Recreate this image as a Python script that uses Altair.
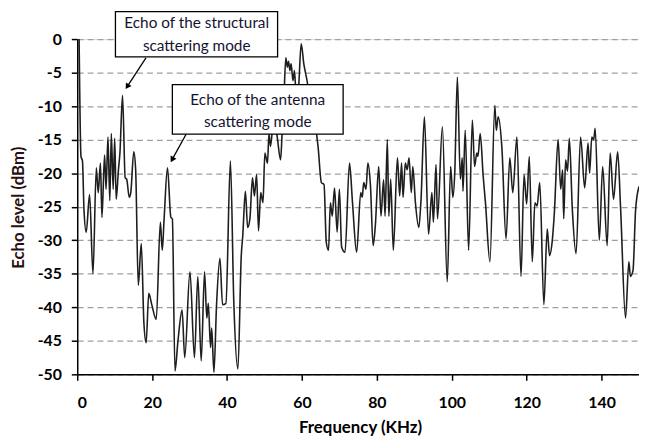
import altair as alt
import pandas as pd

# ---- data ----
freq = [0.5, 1.0, 1.4, 1.8, 2.4, 3.3, 4.2, 5.1, 5.6, 6.2, 6.6, 7.3, 7.7, 8.2, 8.7, 9.1, 9.6, 10.0, 10.4, 11.0,
        11.4, 12.1, 12.8, 13.2, 13.9, 14.3, 15.1, 15.6, 16.3, 17.1, 17.8, 18.4, 19.1, 19.9, 21.1, 22.2, 22.7, 23.2,
        24.1, 25.0, 25.4, 26.1, 26.9, 28.0, 28.7, 30.1, 31.3, 32.2, 33.1, 34.0, 34.6, 35.0, 35.6, 35.9, 36.5, 37.2,
        38.1, 38.8, 39.7,
        40.9, 41.8, 42.9, 43.8, 44.2, 44.9, 45.5, 46.1, 46.8, 47.3, 47.9, 48.4, 49.0, 49.6, 50.1, 50.8, 51.2, 51.6,
        52.5, 53.4, 54.3, 54.7, 55.2, 55.7, 56.1, 56.4, 56.8, 57.1, 57.6, 58.0, 58.5, 59.1, 59.8, 60.5, 61.0, 61.5,
        62.1, 62.7, 63.4, 63.9, 64.3, 65.2, 65.9, 66.5, 67.1, 67.6, 68.1, 68.7, 69.4, 70.0, 70.6, 71.5, 72.7, 73.5,
        74.6, 75.7, 76.1, 76.5, 77.1, 77.6, 78.3, 79.0, 79.6, 80.5, 81.1, 81.8,
        82.2, 82.8, 83.2, 83.7, 84.4, 85.5, 86.1, 86.6, 87.0, 87.6, 88.1, 88.6, 89.2, 89.6, 90.3, 91.2, 91.8, 92.7,
        93.8, 94.7, 95.1, 95.8, 96.2, 97.5, 98.8, 99.7, 100.3, 100.8, 101.5, 102.3, 102.8, 103.0, 103.6, 104.5,
        105.5, 106.1, 106.7, 107.0, 107.6, 108.4, 109.0, 110.2, 111.5, 111.9, 112.4, 113.4, 114.5, 115.5, 116.3,
        117.4, 118.5, 119.3, 120.0, 120.7, 121.5,
        122.2, 122.8, 123.5, 124.6, 125.5, 126.1, 126.8, 127.4, 128.4, 129.1, 129.6, 129.9, 130.4, 130.9, 131.4,
        132.2, 133.2, 134.4, 135.5, 136.4, 136.8, 137.4, 137.9, 138.3, 139.4, 140.3, 141.5, 142.3, 143.2, 144.3,
        145.1, 146.4, 147.3, 147.7, 148.4, 149.1, 150.0]

level = [0.0, -17.5, -18.2, -25.4, -28.8, -23.2, -35.0, -19.2, -22.9, -18.5, -26.6, -17.3, -22.4, -14.6, -24.1,
         -14.1, -22.4, -14.8, -23.9, -19.5,
         -17.0, -8.4, -20.7, -20.9, -23.6, -22.9, -16.8, -19.5, -36.7, -30.5, -42.3, -45.3, -37.9, -39.6, -41.8,
         -27.3, -31.5, -26.8,
         -19.2, -26.6, -26.8, -49.5, -45.0, -40.4, -47.5, -34.7, -47.5, -35.4, -48.0, -34.7, -41.6, -39.4, -46.0,
         -43.1, -49.7, -39.6,
         -32.7, -39.6, -39.4,
         -18.2, -39.1, -49.2, -32.3, -29.3, -22.7, -28.1, -26.8, -20.7, -23.4, -20.2, -28.6, -22.9, -24.4, -17.0,
         -18.5, -14.1, -16.0,
         -11.6, -14.6, -18.0, -14.1, -8.7, -2.8, -4.2, -3.3, -4.7, -3.7, -6.2, -4.7, -8.7, -7.2, -0.7, -3.7, -5.2,
         -6.7,
         -10.6, -8.7, -11.6, -14.1, -16.0, -21.4, -21.7, -30.3, -31.5, -24.4, -26.4, -22.2, -28.8, -22.4, -31.0,
         -31.8, -18.5, -24.4,
         -31.8, -22.9, -23.6, -21.4, -22.4, -18.5, -21.9, -30.8, -27.8, -19.0, -26.4, -21.0,
         -26.4, -15.0, -26.4, -20.9, -31.5, -17.7, -23.4, -18.5, -23.6, -18.5, -19.5, -17.7, -22.9, -19.0, -24.4,
         -28.1, -23.9, -11.6,
         -29.1, -22.9, -27.3, -18.7, -26.8, -13.1, -36.2, -19.0, -23.6, -20.0, -5.7, -20.9, -17.7, -22.7, -13.6,
         -31.5,
         -12.1, -19.0, -17.0, -17.5, -14.1, -20.5, -24.4, -33.2, -9.9, -13.6, -11.6, -16.3, -29.8, -17.7, -22.9,
         -14.6, -35.4, -20.2, -24.6, -17.5, -33.2,
         -24.4, -24.9, -21.4, -39.6, -28.3, -32.3, -30.3, -25.9, -15.0, -22.4, -19.5, -26.8, -18.0, -19.7, -14.8,
         -25.4, -32.0, -14.6, -22.2, -15.5, -20.0, -14.6, -15.0, -13.3, -30.0, -19.0, -30.8, -17.0, -23.9, -16.8,
         -25.4, -41.6, -33.2, -35.4, -34.5, -25.4, -22.0]

x_ticks = [0, 20, 40, 60, 80, 100, 120, 140]
y_ticks = [-50, -45, -40, -35, -30, -25, -20, -15, -10, -5, 0]

# annotation boxes (data coordinates)
box_x1 = [10.2, 25.4]
box_x2 = [53.5, 71.0]
box_y1 = [4.1, -6.8]
box_y2 = [-2.65, -14.16]
box_cx = [31.9, 48.2]
box_cy = [2.35, -9.05]
box_text = [["Echo of the structural", "scattering mode"], ["Echo of the antenna", "scattering mode"]]

arrow_x1 = [18.35, 29.1]
arrow_y1 = [-2.8, -14.16]
arrow_x2 = [13.34, 25.33]
arrow_y2 = [-7.09, -17.98]
arrow_angle = [213, 209]

df = pd.DataFrame({"freq": freq, "level": level})
boxes = pd.DataFrame({"x1": box_x1, "x2": box_x2, "y1": box_y1, "y2": box_y2,
                      "cx": box_cx, "cy": box_cy, "label": box_text})
arrows = pd.DataFrame({"x1": arrow_x1, "y1": arrow_y1, "x2": arrow_x2, "y2": arrow_y2,
                       "angle": arrow_angle})

FONT = "Lato"
xs = alt.Scale(domain=[0, 150], nice=False, zero=False)
ys = alt.Scale(domain=[-50, 0], nice=False, zero=False)

x_axis = alt.Axis(
    values=x_ticks, title="Frequency (KHz)", grid=False, labelOverlap=False,
    labelExpr="'' + datum.value",
    domainColor="black", domainWidth=1.5, tickColor="black", tickWidth=1.5, tickSize=6,
    labelFont=FONT, labelFontSize=16, labelFontWeight="bold", labelColor="black", labelPadding=15,
    titleFont=FONT, titleFontSize=17, titleFontWeight="bold", titleColor="black",
    titleX=286, titleY=54, titleBaseline="middle", titleAnchor="middle", titleAlign="center")

y_axis = alt.Axis(
    values=y_ticks, tickCount=11, title="Echo level (dBm)", grid=True, gridDash=[6, 4],
    gridColor="#a0a0a0", labelOverlap=False, labelExpr="'' + datum.value",
    gridWidth=1.2, domainColor="black", domainWidth=1.5, tickColor="black", tickWidth=1.5, tickSize=6,
    labelFont=FONT, labelFontSize=16, labelFontWeight="bold", labelColor="black", labelPadding=10,
    titleFont=FONT, titleFontSize=17, titleFontWeight="bold", titleColor="#2a1010",
    titleX=-59, titleY=170, titleBaseline="middle", titleAnchor="middle", titleAlign="center",
    titleAngle=270)

line = alt.Chart(df).mark_line(color="#1e1e1e", strokeWidth=1.6, interpolate="monotone", clip=True).encode(
    x=alt.X("freq:Q", scale=xs, axis=x_axis),
    y=alt.Y("level:Q", scale=ys, axis=y_axis),
)

rects = alt.Chart(boxes).mark_rect(fill="white", stroke="black", strokeWidth=1.3, clip=False).encode(
    x=alt.X("x1:Q", scale=xs, axis=x_axis), x2="x2:Q",
    y=alt.Y("y1:Q", scale=ys, axis=y_axis), y2="y2:Q")

texts = alt.Chart(boxes).mark_text(font=FONT, fontSize=15.5, color="#141432", lineHeight=23,
                                   baseline="middle", align="center", clip=False).encode(
    x=alt.X("cx:Q", scale=xs, axis=x_axis), y=alt.Y("cy:Q", scale=ys, axis=y_axis), text="label")

rules = alt.Chart(arrows).mark_rule(color="black", strokeWidth=1.3, clip=False).encode(
    x=alt.X("x1:Q", scale=xs, axis=x_axis), y=alt.Y("y1:Q", scale=ys, axis=y_axis), x2="x2:Q", y2="y2:Q")

heads = alt.Chart(arrows).mark_point(shape="triangle-up", filled=True, color="black", size=45,
                                     opacity=1, clip=False).encode(
    x=alt.X("x2:Q", scale=xs, axis=x_axis), y=alt.Y("y2:Q", scale=ys, axis=y_axis),
    angle=alt.Angle("angle:Q", scale=None))

chart = alt.layer(line, rules, heads, rects, texts).properties(
    width=568, height=339,
    autosize=alt.AutoSizeParams(type="none"),
    padding={"left": 70, "top": 29, "right": 0, "bottom": 67},
).configure_view(stroke=None).configure(background="white")

chart.save("out.html", embed_options={"renderer": "svg", "actions": False})
